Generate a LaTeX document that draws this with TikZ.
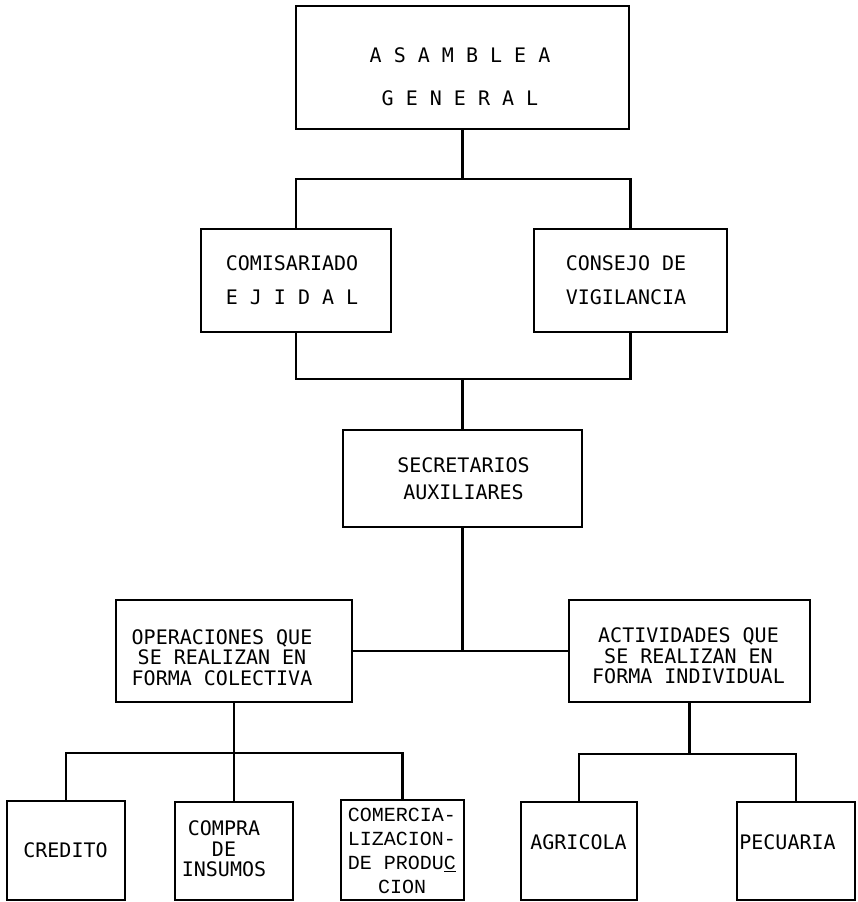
\documentclass[tikz,border=0pt]{standalone}
\usepackage{fontspec}
\setmonofont{DejaVu Sans Mono}
\newfontfamily\typewriter{Liberation Mono}

\begin{document}
\begin{tikzpicture}[x=0.75pt,y=-0.75pt,
   box/.style={draw,line width=1.8pt,inner sep=0pt},
   lbl/.style={font=\ttfamily\fontsize{15}{#1}\selectfont,align=center,inner sep=0pt},
   cour/.style={font=\typewriter\fontsize{15}{#1}\selectfont,align=center,inner sep=0pt},
   link/.style={line width=1.8pt}]
   \def\u{0.75pt} % one pixel of the scan
   \def\w{118} % width of the small boxes
   \useasboundingbox (0,0) rectangle (857,902);
   % asamblea
   \node[box,minimum width=333*\u,minimum height=123*\u] (asamblea) at (462.5,67.5) {};
   \node[lbl=32pt] (asamblea-t) at (460,76.5) {A S A M B L E A\\G E N E R A L};
   % comisariado y consejo
   \node[box,minimum width=190*\u,minimum height=103*\u] (comisariado) at (296,280.5) {};
   \node[lbl=25.5pt] (comisariado-t) at (292,280) {COMISARIADO\\E J I D A L};
   \node[box,minimum width=193*\u,minimum height=103*\u] (consejo) at (630.5,280.5) {};
   \node[lbl=25.5pt] (consejo-t) at (626,280) {CONSEJO DE\\VIGILANCIA};
   % secretarios
   \node[box,minimum width=239*\u,minimum height=97*\u] (secretarios) at (462.5,478.5) {};
   \node[lbl=20pt] (secretarios-t) at (463.5,478.5) {SECRETARIOS\\AUXILIARES};
   % operaciones y actividades
   \node[box,minimum width=236*\u,minimum height=102*\u] (operaciones) at (234,651) {};
   \node[lbl=15.5pt] (operaciones-t) at (222,657.5) {OPERACIONES QUE\\SE REALIZAN EN\\FORMA COLECTIVA};
   \node[box,minimum width=241*\u,minimum height=102*\u] (actividades) at (689.5,651) {};
   \node[lbl=15.5pt] (actividades-t) at (688.5,656) {ACTIVIDADES QUE\\SE REALIZAN EN\\FORMA INDIVIDUAL};
   % row of small boxes
   \node[box,minimum width=\w*\u,minimum height=99*\u] (credito) at (66,850.5) {};
   \node[lbl=15pt] (credito-t) at (65.5,850) {CREDITO};
   \node[box,minimum width=\w*\u,minimum height=98*\u] (compra) at (234,851) {};
   \node[lbl=15.5pt] (compra-t) at (224,849) {COMPRA\\DE\\INSUMOS};
   \node[box,minimum width=123*\u,minimum height=100*\u] (comercia) at (402.5,850) {};
   \node[cour=18pt] (comercia-t) at (402,851) {COMERCIA-\\LIZACION-\\DE PRODU\underline{C}\\CION};
   \node[box,minimum width=116*\u,minimum height=98*\u] (agricola) at (579,851) {};
   \node[lbl=15pt] (agricola-t) at (578.5,842) {AGRICOLA};
   \node[box,minimum width=\w*\u,minimum height=98*\u] (pecuaria) at (796,851) {};
   \node[lbl=15pt] (pecuaria-t) at (787.5,842) {PECUARIA};
   % connectors
   \coordinate (j1) at (462.5,179);
   \coordinate (j2) at (462.5,379);
   \coordinate (j3) at (234,753);
   \coordinate (j4) at (689.5,754);
   \draw[link] (asamblea.south) -- (j1);
   \draw[link] (comisariado.north) |- (j1) -| (consejo.north);
   \draw[link] (comisariado.south) |- (j2) -| (consejo.south);
   \draw[link] (j2) -- (secretarios.north);
   \draw[link] (operaciones.east) -- (actividades.west);
   \draw[link] (secretarios.south) -- (secretarios.south |- operaciones.east);
   \draw[link] (operaciones.south) -- (compra.north);
   \draw[link] (credito.north) |- (j3) -| (comercia.north);
   \draw[link] (actividades.south) -- (j4);
   \draw[link] (agricola.north) |- (j4) -| (pecuaria.north);
\end{tikzpicture}
\end{document}
